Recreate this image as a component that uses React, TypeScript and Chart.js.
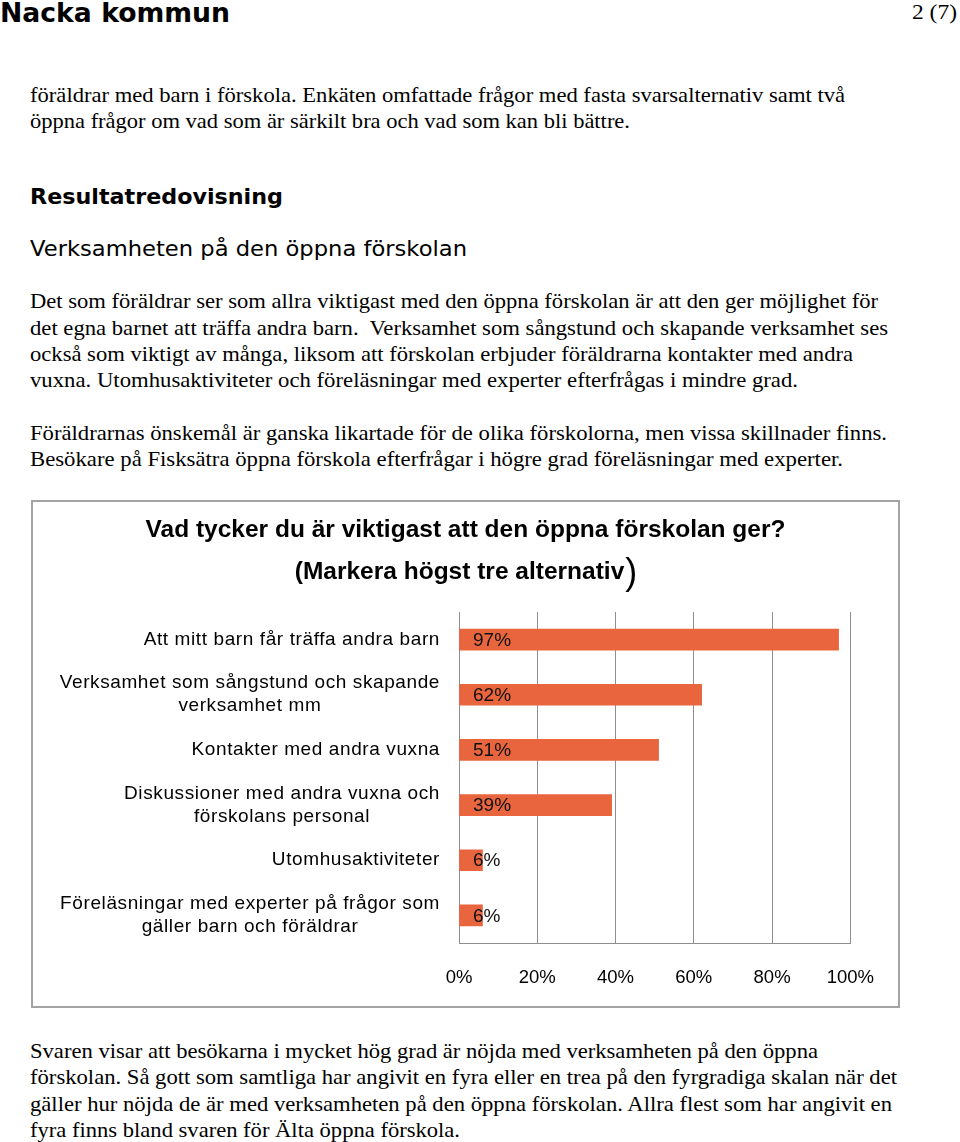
import React, { useEffect, useLayoutEffect, useRef } from 'react';
import { Chart, registerables } from 'chart.js';

Chart.register(...registerables);

// ---------- Data ----------
const categories: string[][] = [
  ['Att mitt barn får träffa andra barn'],
  ['Verksamhet som sångstund och skapande', 'verksamhet mm'],
  ['Kontakter med andra vuxna'],
  ['Diskussioner med andra vuxna och', 'förskolans personal'],
  ['Utomhusaktiviteter'],
  ['Föreläsningar med experter på frågor som', 'gäller barn och föräldrar'],
];
const values = [97, 62, 51, 39, 6, 6];
const tickValues = [0, 20, 40, 60, 80, 100];
const tickLabels = ['0%', '20%', '40%', '60%', '80%', '100%'];
const titleLine1 = 'Vad tycker du är viktigast att den öppna förskolan ger?';
const titleLine2 = '(Markera högst tre alternativ';
const titleParen = ')';

const introLines = [
  'föräldrar med barn i förskola. Enkäten omfattade frågor med fasta svarsalternativ samt två',
  'öppna frågor om vad som är särkilt bra och vad som kan bli bättre.',
];
const para1Lines = [
  'Det som föräldrar ser som allra viktigast med den öppna förskolan är att den ger möjlighet för',
  'det egna barnet att träffa andra barn.  Verksamhet som sångstund och skapande verksamhet ses',
  'också som viktigt av många, liksom att förskolan erbjuder föräldrarna kontakter med andra',
  'vuxna. Utomhusaktiviteter och föreläsningar med experter efterfrågas i mindre grad.',
];
const para2Lines = [
  'Föräldrarnas önskemål är ganska likartade för de olika förskolorna, men vissa skillnader finns.',
  'Besökare på Fisksätra öppna förskola efterfrågar i högre grad föreläsningar med experter.',
];
const para3Lines = [
  'Svaren visar att besökarna i mycket hög grad är nöjda med verksamheten på den öppna',
  'förskolan. Så gott som samtliga har angivit en fyra eller en trea på den fyrgradiga skalan när det',
  'gäller hur nöjda de är med verksamheten på den öppna förskolan. Allra flest som har angivit en',
  'fyra finns bland svaren för Älta öppna förskola.',
];

const SERIF = '"Liberation Serif", "Times New Roman", serif';
const SANS = '"DejaVu Sans", Verdana, sans-serif';
const ARIAL = '"Liberation Sans", Arial, sans-serif';
const BAR = '#E8653E';
const GRID = '#8e8e8e';

type LineProps = { text: string; x: number; base: number; w?: number; font: string; size: number; weight?: number | string };

function FitLine({ text, x, base, w, font, size, weight }: LineProps) {
  const ref = useRef<HTMLDivElement>(null);
  useLayoutEffect(() => {
    const el = ref.current;
    if (!el) return;
    el.style.transform = 'none';
    const nat = el.getBoundingClientRect().width;
    if (w && nat > 0) el.style.transform = `scaleX(${w / nat})`;
  }, [text, w]);
  return (
    <div
      ref={ref}
      style={{
        position: 'absolute',
        left: x,
        top: base - size * 0.94,
        fontFamily: font,
        fontSize: size,
        fontWeight: weight ?? 'normal',
        lineHeight: `${size * 1.2}px`,
        whiteSpace: 'pre',
        transformOrigin: '0 0',
        color: '#000',
      }}
    >
      {text}
    </div>
  );
}

function BarChart() {
  const canvasRef = useRef<HTMLCanvasElement>(null);
  useEffect(() => {
    const canvas = canvasRef.current;
    if (!canvas) return;

    const titlePlugin = {
      id: 'titles',
      afterDraw(chart: any) {
        const ctx = chart.ctx;
        const cx = chart.width / 2;
        ctx.save();
        ctx.fillStyle = '#000';
        ctx.textBaseline = 'alphabetic';
        ctx.textAlign = 'center';
        ctx.font = `bold 24.5px ${ARIAL}`;
        ctx.fillText(titleLine1, cx, 35);
        const w1 = ctx.measureText(titleLine2).width;
        ctx.font = `normal 36px ${ARIAL}`;
        const w2 = ctx.measureText(titleParen).width;
        const start = cx - (w1 + w2) / 2;
        ctx.textAlign = 'left';
        ctx.font = `bold 24.5px ${ARIAL}`;
        ctx.fillText(titleLine2, start, 77);
        ctx.font = `normal 36px ${ARIAL}`;
        ctx.fillText(titleParen, start + w1 + 1, 82);
        ctx.restore();
      },
    };

    const labelsPlugin = {
      id: 'catLabels',
      afterDraw(chart: any) {
        const ctx = chart.ctx;
        const ys = chart.scales.y;
        const xs = chart.scales.x;
        const right = xs.left - 19;
        ctx.save();
        ctx.fillStyle = '#000';
        ctx.font = `19px ${ARIAL}`;
        (ctx as any).letterSpacing = '0.6px';
        ctx.textAlign = 'center';
        ctx.textBaseline = 'middle';
        categories.forEach((lines, i) => {
          const y = ys.getPixelForValue(i);
          const bw = Math.max(...lines.map((l) => ctx.measureText(l).width));
          const cx = right - bw / 2;
          const lh = 23;
          lines.forEach((l, j) => {
            ctx.fillText(l, cx, y - ((lines.length - 1) * lh) / 2 + j * lh);
          });
        });
        (ctx as any).letterSpacing = '0px';
        // value labels
        ctx.font = `19px ${ARIAL}`;
        ctx.textAlign = 'left';
        ctx.fillStyle = '#111';
        const meta = chart.getDatasetMeta(0);
        meta.data.forEach((bar: any, i: number) => {
          ctx.fillText(`${values[i]}%`, xs.getPixelForValue(0) + 14, bar.y + 1);
        });
        ctx.restore();
      },
    };

    const chart = new Chart(canvas, {
      type: 'bar',
      data: {
        labels: categories.map((c) => c.join(' ')),
        datasets: [
          {
            data: values,
            backgroundColor: BAR,
            borderWidth: 0,
            barThickness: 21,
          },
        ],
      },
      options: {
        indexAxis: 'y',
        responsive: false,
        maintainAspectRatio: false,
        animation: false,
        events: [],
        layout: { padding: { top: 110, right: 47, left: 0, bottom: 0 } },
        plugins: {
          legend: { display: false },
          tooltip: { enabled: false },
          title: { display: false },
        },
        scales: {
          x: {
            min: 0,
            max: 100,
            afterBuildTicks: (s: any) => {
              s.ticks = tickValues.map((v) => ({ value: v }));
            },
            afterFit: (s: any) => {
              s.height = 63;
            },
            grid: { color: GRID, lineWidth: 1, drawTicks: false },
            border: { display: true, color: GRID, width: 1 },
            ticks: {
              callback: (v: any) => tickLabels[tickValues.indexOf(Number(v))],
              font: { family: ARIAL, size: 18.5 },
              color: '#000',
              padding: 24,
              maxRotation: 0,
            },
          },
          y: {
            afterFit: (s: any) => {
              s.width = 426;
            },
            grid: { display: false, drawTicks: false },
            border: { display: true, color: GRID, width: 1 },
            ticks: { display: false },
          },
        },
      },
      plugins: [titlePlugin, labelsPlugin],
    } as any);
    return () => chart.destroy();
  }, []);
  return <canvas ref={canvasRef} width={865} height={504} style={{ position: 'absolute', left: 33, top: 502, width: 865, height: 504 }} />;
}

export default function App() {
  const para1Ends = [878, 888, 853, 798];
  const para1Base = [309, 336, 362, 388];
  const para2Ends = [887, 843];
  const para2Base = [441, 467];
  const para3Ends = [818, 897, 892, 460];
  const para3Base = [1059, 1085, 1112, 1138];
  return (
    <div style={{ position: 'absolute', left: 0, top: 0, width: 960, height: 1142, background: '#fff', overflow: 'hidden' }}>
      <FitLine text="Nacka kommun" x={0} base={22} w={230} font={SANS} size={27} weight="bold" />
      <FitLine text="2 (7)" x={912} base={20} w={45} font={SERIF} size={22} />
      <FitLine text={introLines[0]} x={30} base={103} w={815} font={SERIF} size={22} />
      <FitLine text={introLines[1]} x={30} base={129} w={600} font={SERIF} size={22} />
      <FitLine text="Resultatredovisning" x={30} base={205} w={253} font={SANS} size={22} weight="bold" />
      <FitLine text="Verksamheten på den öppna förskolan" x={30} base={257} w={437} font={SANS} size={22} />
      {para1Lines.map((t, i) => (
        <FitLine key={'p1' + i} text={t} x={30} base={para1Base[i]} w={para1Ends[i] - 30} font={SERIF} size={22} />
      ))}
      {para2Lines.map((t, i) => (
        <FitLine key={'p2' + i} text={t} x={30} base={para2Base[i]} w={para2Ends[i] - 30} font={SERIF} size={22} />
      ))}
      <div style={{ position: 'absolute', left: 31, top: 500, width: 869, height: 508, border: '2px solid #a3a3a3', boxSizing: 'border-box' }} />
      <BarChart />
      {para3Lines.map((t, i) => (
        <FitLine key={'p3' + i} text={t} x={30} base={para3Base[i]} w={para3Ends[i] - 30} font={SERIF} size={22} />
      ))}
    </div>
  );
}
